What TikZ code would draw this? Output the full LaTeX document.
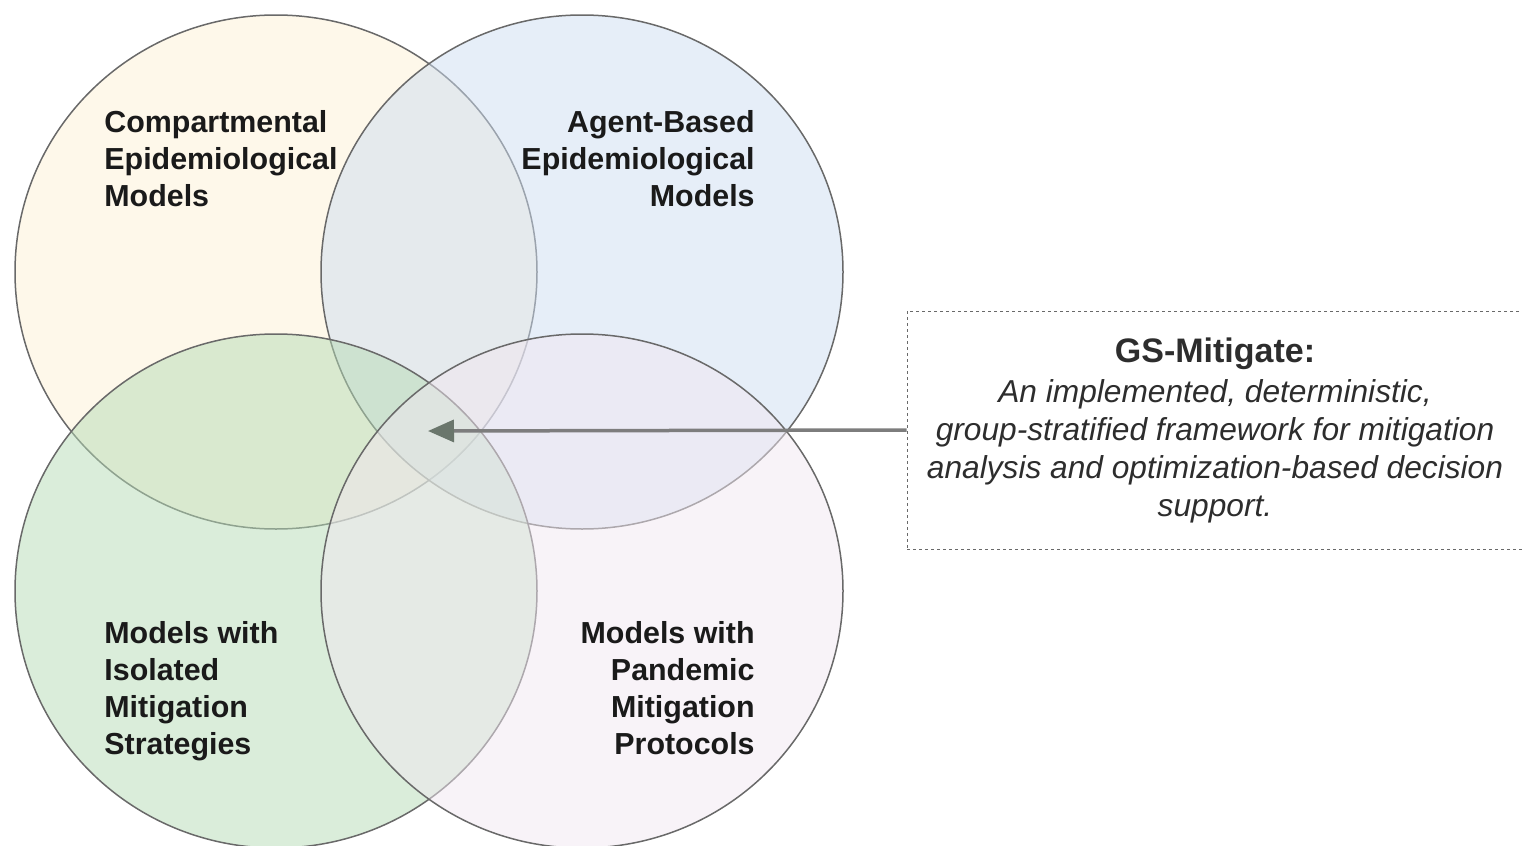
\documentclass[tikz,border=0pt]{standalone}
\usepackage{fontspec}
\setmainfont{Liberation Sans}
\usetikzlibrary{arrows.meta,shapes.geometric}
\definecolor{cA}{RGB}{253,241,213}
\definecolor{cB}{RGB}{205,221,241}
\definecolor{cC}{RGB}{181,219,181}
\definecolor{cD}{RGB}{241,231,241}
\definecolor{outl}{RGB}{105,105,105}
\definecolor{arrowgray}{RGB}{125,125,125}
\definecolor{headcol}{RGB}{106,118,108}
\definecolor{txt}{RGB}{26,26,26}
\definecolor{boxtxt}{RGB}{45,45,45}
\begin{document}
\begin{tikzpicture}[x=0.5pt,y=-0.5pt,
  venn/.style={ellipse, minimum width=261pt, minimum height=257pt, inner sep=0pt, draw=outl, line width=0.75pt, fill opacity=0.5, text opacity=1},
  lbl/.style={font=\fontsize{15.2pt}{18.5pt}\selectfont\bfseries, text=txt, inner sep=0pt},
  gsbox/.style={draw=outl, dash pattern=on 1.5pt off 1.5pt, line width=0.5pt, minimum width=308pt, minimum height=119pt, align=center, text=boxtxt, inner sep=0pt, font=\fontsize{15.85pt}{19pt}\selectfont\itshape},
  pointer/.style={draw=arrowgray, line width=1.75pt, -{Triangle[length=13pt,width=11pt,color=headcol]}}
]
\useasboundingbox (0,0) rectangle (1522,846);
\node[venn, fill=cA] (c1) at (276,272) {};
\node[venn, fill=cB] (c2) at (582,272) {};
\node[venn, fill=cC] (c3) at (276,591) {};
\node[venn, fill=cD] (c4) at (582,591) {};

\node[lbl, anchor=north west, align=left] (l1) at (104,110) {Compartmental\\Epidemiological\\Models};
\node[lbl, anchor=north east, align=right] (l2) at (755,110) {Agent-Based\\Epidemiological\\Models};
\node[lbl, anchor=north west, align=left] (l3) at (104,621) {Models with\\Isolated\\Mitigation\\Strategies};
\node[lbl, anchor=north east, align=right] (l4) at (755,621) {Models with\\Pandemic\\Mitigation\\Protocols};

\node[gsbox] (gs) at (1215,430) {{\fontsize{17pt}{20pt}\selectfont\bfseries\upshape GS-Mitigate:}\\[1pt]
An implemented, deterministic,\\
group-stratified framework for mitigation\\
analysis and optimization-based decision\\
support.};

\coordinate (tip) at (428,431);
\draw[pointer] (gs.west) -- (tip);
\end{tikzpicture}
\end{document}
